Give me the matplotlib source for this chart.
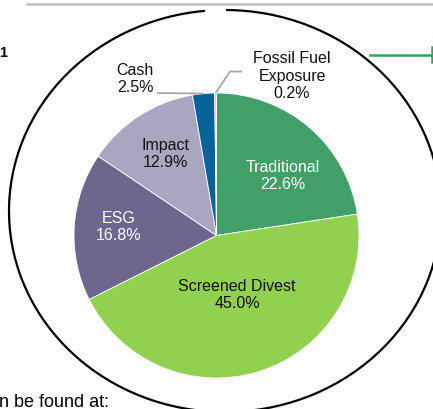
import numpy as np
import matplotlib
matplotlib.use("Agg")
import matplotlib.pyplot as plt
from matplotlib.patches import Arc

plt.rcParams['font.family'] = ['Liberation Sans', 'DejaVu Sans']

# data (clockwise from 12 o'clock)
categories = ['Traditional', 'Screened Divest', 'ESG', 'Impact', 'Cash', 'Fossil Fuel\nExposure']
shares = [22.6, 45.0, 16.8, 12.9, 2.5, 0.2]
colors = ['#439F68', '#92D050', '#6F668E', '#A9A6C1', '#08639B', '#A9CBE3']
label_colors = ['white', '#111111', 'white', '#111111', '#111111', '#111111']
label_pos = [(283, 176), (237, 295), (119, 227), (165, 154), (135, 79), (292, 76)]

fig = plt.figure(figsize=(4.33, 4.10), dpi=100)
ax = fig.add_axes([0, 0, 1, 1])

cx, cy, r = 216.5, 236.5, 142.5
# y axis is flipped below, so counterclock in data = clockwise on screen
wedges, _ = ax.pie(shares, colors=colors, startangle=-90, counterclock=True,
                   radius=r, center=(cx, cy),
                   wedgeprops=dict(edgecolor='white', linewidth=0.6))

ax.set_xlim(0, 433)
ax.set_ylim(410, 0)
ax.set_aspect('equal')
ax.axis('off')

for name, val, col, (tx, ty) in zip(categories, shares, label_colors, label_pos):
    ax.text(tx, ty, f"{name}\n{val:.1f}%", ha='center', va='center',
            color=col, fontsize=11.5, linespacing=1.18)

# leader lines for the two small slices
lead = '#A6A6A6'
w_cash = wedges[4]
a = np.deg2rad((w_cash.theta1 + w_cash.theta2) / 2)
px, py = cx + r * np.cos(a), cy + r * np.sin(a)
ax.plot([157, px], [94, py], color=lead, lw=1.3, solid_capstyle='butt')

w_ff = wedges[5]
a = np.deg2rad((w_ff.theta1 + w_ff.theta2) / 2)
px, py = cx + r * np.cos(a), cy + r * np.sin(a)
ax.plot([px, 230, 242], [py, 72.5, 72.5], color=lead, lw=1.3, solid_capstyle='butt')

# outer ellipse outline with small gap at the top
ax.add_patch(Arc((225, 212), 432, 402, theta1=270.3, theta2=264.3,
                 color='black', lw=1.6))

# slide decorations
ax.plot([27, 433], [5, 5], color='#B9BFC5', lw=1.8)
ax.plot([370, 432], [56, 56], color='#3E9D5E', lw=1.8)
ax.plot([432, 432], [48, 63], color='#3E9D5E', lw=1.8)
ax.text(-1, 53, '1', fontsize=10.5, fontweight='bold', ha='left', va='center')
ax.text(-1, 407, 'n be found at:', fontsize=13, ha='left', va='baseline')

fig.savefig('out.png', dpi=100)
